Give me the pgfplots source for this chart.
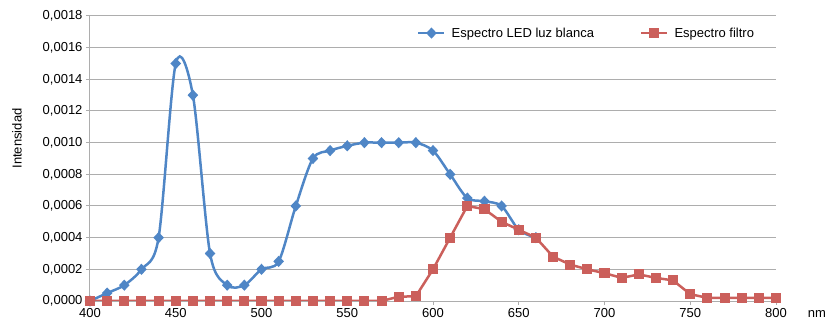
\documentclass[border=0pt]{standalone}
\usepackage{pgfplots}
\pgfplotsset{compat=1.18}
\usepackage{fontspec}
\setmainfont{Liberation Sans}
\definecolor{eblue}{HTML}{4F86C6}
\definecolor{ered}{HTML}{CB5F5B}
\definecolor{egrid}{HTML}{ADADAD}
\begin{document}
\begin{tikzpicture}[font=\fontsize{13bp}{15bp}\selectfont]
\begin{axis}[
  scale only axis, width=686bp, height=285bp,
  xmin=400, xmax=800, ymin=0, ymax=0.0018,
  xtick={400,450,500,550,600,650,700,750,800},
  ytick={0,0.0002,0.0004,0.0006,0.0008,0.0010,0.0012,0.0014,0.0016,0.0018},
  axis lines*=left,
  axis line style={egrid, line width=1bp},
  ymajorgrids, grid style={egrid, line width=1bp},
  tick style={egrid, line width=1bp}, tick align=outside, major tick length=4bp,
  scaled y ticks=false,
  yticklabel style={/pgf/number format/.cd, fixed, fixed zerofill, precision=4, use comma, assume math mode=true},
  xticklabel style={/pgf/number format/.cd, assume math mode=true, 1000 sep={}},
  ylabel={Intensidad},
  ylabel style={at={(axis description cs:0,0.5)}, anchor=center, xshift=20bp, yshift=73bp},
  xlabel={nm},
  xlabel style={at={(axis description cs:1,0)}, anchor=center, xshift=41bp, yshift=-13bp},
  legend columns=2,
  legend style={draw=none, fill=none, inner sep=0pt, at={(axis description cs:0.4767,0.94)}, anchor=west,
    /tikz/every odd column/.append style={column sep=4bp},
    /tikz/every even column/.append style={column sep=44bp}},
  legend image code/.code={\draw[mark repeat=2, mark phase=2] plot coordinates {(0bp,0bp) (13bp,0bp) (26bp,0bp)};},
]
\addplot[eblue, line width=2.5bp, smooth, mark=diamond*, mark size=3.8bp, mark options={solid, xscale=1.25}] coordinates {
(400,0) (410,0.00005) (420,0.0001) (430,0.0002) (440,0.0004) (450,0.0015) (460,0.0013) (470,0.0003)
(480,0.0001) (490,0.0001) (500,0.0002) (510,0.00025) (520,0.0006) (530,0.0009) (540,0.00095)
(550,0.00098) (560,0.001) (570,0.001) (580,0.001) (590,0.001) (600,0.00095) (610,0.0008)
(620,0.00065) (630,0.00063) (640,0.0006) (650,0.00045) (660,0.0004)
};
\addlegendentry{Espectro LED luz blanca}
\addplot[ered, line width=2.5bp, mark=square*, mark size=3.8bp, mark options={solid}] coordinates {
(400,0) (410,0) (420,0) (430,0) (440,0) (450,0) (460,0) (470,0) (480,0) (490,0) (500,0)
(510,0) (520,0) (530,0) (540,0) (550,0) (560,0) (570,0) (580,0.000027) (590,0.00003)
(600,0.0002) (610,0.0004) (620,0.0006) (630,0.00058) (640,0.0005) (650,0.00045) (660,0.0004)
(670,0.00028) (680,0.00023) (690,0.0002) (700,0.000176) (710,0.000146) (720,0.000168)
(730,0.000146) (740,0.00013) (750,0.000043) (760,0.00002) (770,0.00002) (780,0.00002)
(790,0.00002) (800,0.00002)
};
\addlegendentry{Espectro filtro}
\end{axis}
\pgfresetboundingbox
\path[use as bounding box] (-90bp,-24bp) rectangle (746bp,301bp);
\end{tikzpicture}
\end{document}
